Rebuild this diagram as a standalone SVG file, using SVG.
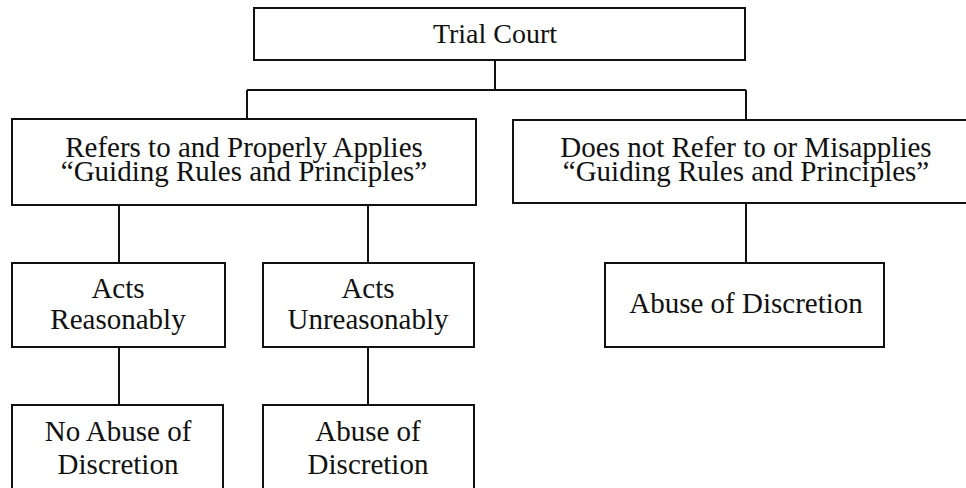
<svg xmlns="http://www.w3.org/2000/svg" width="966" height="488" viewBox="0 0 966 488">
<style>
.box{fill:#fff;stroke:#111;stroke-width:2}
.ln{stroke:#111;stroke-width:2;fill:none}
text{font-family:"Liberation Serif","Times New Roman",serif;font-size:29px;fill:#111;text-anchor:middle}
</style>
<rect width="966" height="488" fill="#fff"/>
<g id="connectors">
<path class="ln" d="M495 60V90M247 90H746M247 90V119M746 90V120"/>
<path class="ln" d="M119 205V263M368 205V263M746 203V263"/>
<path class="ln" d="M119 347V405M368 347V405"/>
</g>
<g id="trial-court"><rect class="box" x="254" y="8" width="491" height="52"/><text x="495" y="43" style="font-size:28px">Trial Court</text></g>
<g id="refers"><rect class="box" x="12" y="119" width="464" height="86"/><text x="244" y="157">Refers to and Properly Applies</text><text x="244" y="181">“Guiding Rules and Principles”</text></g>
<g id="does-not"><rect class="box" x="513" y="120" width="454" height="83"/><text x="746" y="157">Does not Refer to or Misapplies</text><text x="746" y="181">“Guiding Rules and Principles”</text></g>
<g id="acts-reasonably"><rect class="box" x="12" y="263" width="213" height="84"/><text x="118" y="298">Acts</text><text x="118" y="329">Reasonably</text></g>
<g id="acts-unreasonably"><rect class="box" x="263" y="263" width="211" height="84"/><text x="368" y="298">Acts</text><text x="368" y="329">Unreasonably</text></g>
<g id="abuse-right"><rect class="box" x="605" y="263" width="279" height="84"/><text x="746" y="313">Abuse of Discretion</text></g>
<g id="no-abuse"><rect class="box" x="12" y="405" width="211" height="90"/><text x="118" y="441">No Abuse of</text><text x="118" y="474">Discretion</text></g>
<g id="abuse-mid"><rect class="box" x="263" y="405" width="211" height="90"/><text x="368" y="441">Abuse of</text><text x="368" y="474">Discretion</text></g>
</svg>
